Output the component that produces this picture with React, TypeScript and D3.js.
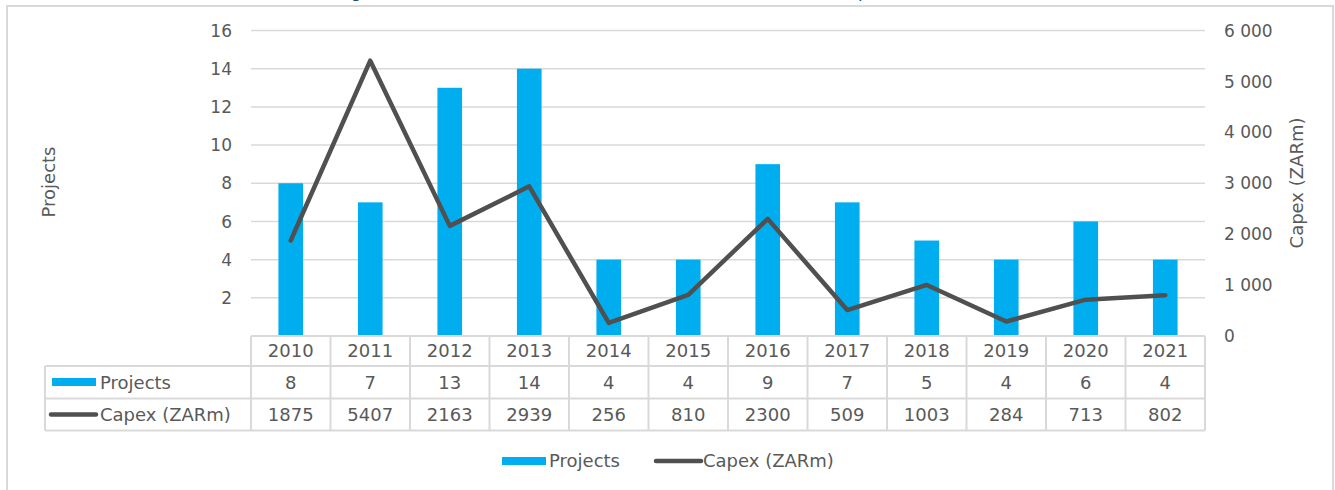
import React from "react";
import * as d3 from "d3";

const years = ["2010","2011","2012","2013","2014","2015","2016","2017","2018","2019","2020","2021"];
const projects = [8, 7, 13, 14, 4, 4, 9, 7, 5, 4, 6, 4];
const capex = [1875, 5407, 2163, 2939, 256, 810, 2300, 509, 1003, 284, 713, 802];
const leftTicks = [2, 4, 6, 8, 10, 12, 14, 16];
const rightTicks = [0, 1000, 2000, 3000, 4000, 5000, 6000];
const titleText = "Figure 3: Number of investment announcements and total capex, 2010–2021";

const W = 1335, H = 490;
const FONT = "'DejaVu Sans', sans-serif";
const TXT = "#595959";
const GRID = "#D9D9D9";
const BLUE = "#00AEEF";
const LINE = "#505050";

export default function App() {
  const x0 = 251, x1 = 1205, yTop = 30.5, yBot = 336;
  const x = d3.scaleBand<string>().domain(years).range([x0, x1]).paddingInner(0).paddingOuter(0);
  const yL = d3.scaleLinear().domain([0, 16]).range([yBot, yTop]);
  const yR = d3.scaleLinear().domain([0, 6000]).range([yBot, yTop]);
  const bw = x.bandwidth() * 0.31;
  const cx = (y: string) => (x(y) as number) + x.bandwidth() / 2;
  const line = d3.line<number>().x((_, i) => cx(years[i])).y(d => yR(d));
  const fmt = (v: number) => d3.format(",")(v).replace(/,/g, " ");

  const rowTop = [336, 366, 398.5, 430.5];
  const tableLeft = 45;

  return (
    <svg width={W} height={H} style={{ position: "absolute", left: 0, top: 0, background: "#fff" }} fontFamily={FONT}>
      <rect x={0} y={0} width={W} height={H} fill="#fff" />
      {/* clipped title (cut off at the top, as in the reference) */}
      <text x={338} y={-3} fontSize={17} fontStyle="italic" fill="#1F4E79">{titleText}</text>
      {/* outer frame */}
      <path d={`M7,${H} V6 H1333 V${H}`} fill="none" stroke={GRID} strokeWidth={2} />

      {/* gridlines */}
      {leftTicks.map(t => (
        <line key={t} x1={x0} x2={x1} y1={yL(t)} y2={yL(t)} stroke={GRID} strokeWidth={1.5} />
      ))}
      {/* left ticks */}
      {leftTicks.map(t => (
        <text key={t} x={232} y={yL(t)} dy="0.36em" textAnchor="end" fontSize={17} fill={TXT}>{t}</text>
      ))}
      {/* right ticks */}
      {rightTicks.map(t => (
        <text key={t} x={1224} y={yR(t)} dy="0.36em" textAnchor="start" fontSize={17} fill={TXT}>{fmt(t)}</text>
      ))}
      {/* axis titles */}
      <text transform={`translate(55,182) rotate(-90)`} textAnchor="middle" fontSize={18} fill={TXT}>Projects</text>
      <text transform={`translate(1303,183) rotate(-90)`} textAnchor="middle" fontSize={18} fill={TXT}>Capex (ZARm)</text>

      {/* bars */}
      {years.map((y, i) => (
        <rect key={y} x={cx(y) - bw / 2} y={yL(projects[i])} width={bw} height={yBot - yL(projects[i])} fill={BLUE} />
      ))}
      {/* line */}
      <path d={line(capex) || ""} fill="none" stroke={LINE} strokeWidth={4.5} strokeLinejoin="round" strokeLinecap="round" />

      {/* data table */}
      <g stroke={GRID} strokeWidth={2} fill="none">
        <line x1={x0} x2={x1} y1={rowTop[0]} y2={rowTop[0]} />
        <line x1={tableLeft} x2={x1} y1={rowTop[1]} y2={rowTop[1]} />
        <line x1={tableLeft} x2={x1} y1={rowTop[2]} y2={rowTop[2]} />
        <line x1={tableLeft} x2={x1} y1={rowTop[3]} y2={rowTop[3]} />
        <line x1={tableLeft} x2={tableLeft} y1={rowTop[1]} y2={rowTop[3]} />
        {years.map(y => (
          <line key={y} x1={x(y) as number} x2={x(y) as number} y1={rowTop[0]} y2={rowTop[3]} />
        ))}
        <line x1={x1} x2={x1} y1={rowTop[0]} y2={rowTop[3]} />
      </g>
      {years.map((y, i) => (
        <g key={y} fontSize={18} fill={TXT} textAnchor="middle">
          <text x={cx(y)} y={(rowTop[0] + rowTop[1]) / 2} dy="0.36em">{y}</text>
          <text x={cx(y)} y={(rowTop[1] + rowTop[2]) / 2} dy="0.36em">{projects[i]}</text>
          <text x={cx(y)} y={(rowTop[2] + rowTop[3]) / 2} dy="0.36em">{capex[i]}</text>
        </g>
      ))}
      {/* table legend keys */}
      <rect x={52} y={378} width={44} height={8} fill={BLUE} />
      <text x={100} y={(rowTop[1] + rowTop[2]) / 2} dy="0.36em" fontSize={18} fill={TXT}>Projects</text>
      <line x1={51} x2={96} y1={414.5} y2={414.5} stroke={LINE} strokeWidth={4.5} strokeLinecap="round" />
      <text x={100} y={(rowTop[2] + rowTop[3]) / 2} dy="0.36em" fontSize={18} fill={TXT}>Capex (ZARm)</text>

      {/* bottom legend */}
      <rect x={502} y={457} width={44} height={8} fill={BLUE} />
      <text x={549} y={461} dy="0.36em" fontSize={18} fill={TXT}>Projects</text>
      <line x1={656} x2={701} y1={461} y2={461} stroke={LINE} strokeWidth={4.5} strokeLinecap="round" />
      <text x={703} y={461} dy="0.36em" fontSize={18} fill={TXT}>Capex (ZARm)</text>
    </svg>
  );
}
